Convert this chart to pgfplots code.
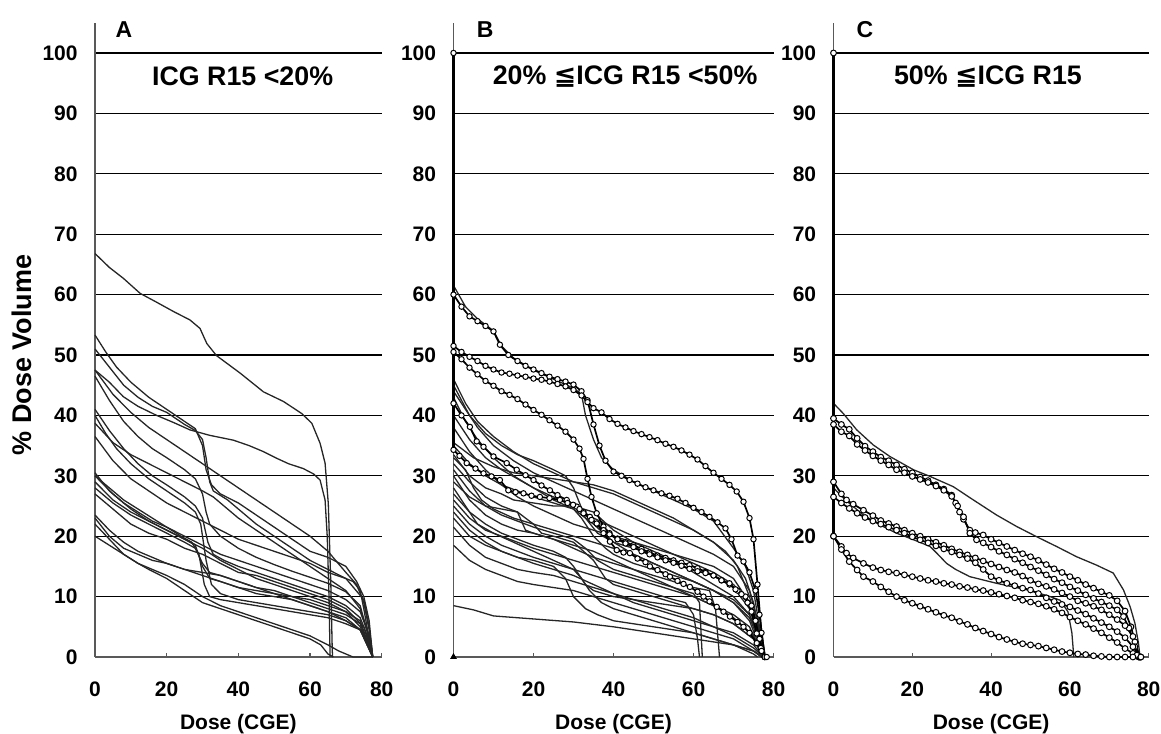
\documentclass[border=0pt]{standalone}
\usepackage{fontspec}
\setmainfont{Liberation Sans}
\newfontfamily\djv{DejaVu Sans}
\usepackage{pgfplots}
\pgfplotsset{compat=1.18}

\pgfplotsset{
  dvh/.style={
    scale only axis, height=317.1pt,
    xmin=0, xmax=80, ymin=0, ymax=105, clip=false,
    axis x line*=bottom, axis y line*=left,
    axis line style={black!65, line width=0.6pt, -},
    xtick={0,20,...,80}, ytick={0,10,...,100},
    ymajorgrids, grid style={black, line width=0.65pt},
    tick align=inside, major tick length=2pt,
    xtick style={black!65, line width=0.6pt}, ytick style={draw=none},
    /pgf/number format/assume math mode=true,
    tick label style={font=\fontsize{10.5}{12}\selectfont\bfseries},
    xticklabel style={anchor=center, inner sep=0pt, yshift=-16pt},
    yticklabel style={anchor=east, inner sep=0pt, xshift=-8.5pt},
    xlabel={Dose (CGE)},
    xlabel style={font=\fontsize{10.5}{12}\selectfont\bfseries,
      at={(axis description cs:0.5,0)}, anchor=center, yshift=-33.5pt},
  },
  dv/.style={black!85, line width=0.65pt},
  mk/.style={black, line width=0.85pt, mark=*, mark size=1.35pt,
    mark options={fill=white, line width=0.5pt}},
}
\tikzset{
  pan/.style={font=\fontsize{11.5}{14}\selectfont\bfseries},
  ttl/.style={font=\fontsize{13.4}{16}\selectfont\bfseries},
}

\begin{document}
\begin{tikzpicture}
\path[use as bounding box] (0,-38pt) rectangle (580.5pt,328.5pt);

% ---------------- A ----------------
\begin{axis}[dvh, width=143.35pt, at={(47.5pt,0pt)}, anchor=south west]
\addplot[dv] coordinates {(0,66.8)(4,64.5)(7.9,62.7)(12.6,60.2)(17,58.8)(21.9,57.2)(26.5,55.8)(29.3,54.4)(31.2,51.9)(33.9,49.9)(40.5,47)(47,43.9)(52.6,42.3)(57.7,40.3)(60.5,38.7)(62.8,35.4)(64.2,32.1)(65.1,25.4)(65.8,12.2)(66.2,1.2)(66.3,0)};
\addplot[dv] coordinates {(0,47.5)(4,45.5)(7.9,43.1)(12,41.5)(17.2,40)(22,38.8)(26.5,37.6)(32,36.7)(38.6,35.9)(43,35)(47,34)(50.7,32.9)(54,32)(58.1,31.2)(61,30.3)(62.8,29.3)(64.2,26)(64.8,20)(65.3,10)(65.6,0)};
\addplot[dv] coordinates {(0,53.3)(3,50.5)(6,48)(10,45.5)(15,43)(20,41)(25,39)(28,37.8)(30,35)(31,31)(32.5,28.5)(35,27)(40,25.5)(45,23.5)(50,21.5)(55,19.5)(60,17.5)(65,16.5)(70,15)(73,12.5)(75,10)(76.5,6)(77.5,0)};
\addplot[dv] coordinates {(0,51)(4,48)(8,45)(12,43)(16,41.5)(20,40.5)(25,38.5)(28,37.5)(30,36)(31,33)(32,29)(33,27.5)(37,26)(40,24.5)(45,22)(50,20)(55,18)(60,16)(65,14.5)(70,13)(75,9.5)(76.5,5)(77.5,0)};
\addplot[dv] coordinates {(0,47.5)(5,43.5)(10,40.5)(15,38)(20,36)(25,34)(30,32)(35,30)(40,28)(45,26)(50,24)(55,22)(60,20)(65,17.5)(70,14)(73,12)(75,9)(76.5,4.5)(77.5,0)};
\addplot[dv] coordinates {(0,46.5)(4,42.5)(8,39)(12,36.5)(16,34.5)(20,33)(25,31)(28,29.5)(30,27)(31,24)(32,22)(35,20)(40,18)(45,16.5)(50,15.3)(55,14.2)(60,13.2)(65,12.2)(70,10.8)(74,8.5)(76,4)(77.5,0)};
\addplot[dv] coordinates {(0,41)(4,37.5)(8,34.5)(12,32)(16,30)(20,28.5)(25,26.5)(28,25)(30,23)(31.5,19)(33,17)(36,16)(40,15)(45,14)(50,13)(55,12)(60,11)(65,10)(70,8.5)(74,6.5)(76,3.5)(77.5,0)};
\addplot[dv] coordinates {(0,40)(3,37)(6,34.5)(10,32)(15,29.5)(20,27.5)(25,25.5)(28,24)(29.5,22)(31,16)(32.5,12)(35,10.5)(40,9.5)(50,8.5)(60,7.5)(65,7)(70,6)(74,4.5)(77.5,0)};
\addplot[dv] coordinates {(0,38.7)(5,35.5)(10,33.5)(15,32)(20,30.5)(25,29)(30,27.5)(33,26.5)(36,25)(40,23)(45,21)(50,19)(55,17)(60,15)(65,13)(70,11)(74,8)(76.5,3.5)(77.5,0)};
\addplot[dv] coordinates {(0,36.5)(5,32.5)(10,29.5)(15,27.5)(20,25.5)(25,24)(30,22.5)(35,21)(40,19.5)(45,18.5)(50,17.5)(55,16.5)(60,15.5)(65,14)(70,13)(72,12.5)(74,11)(75,8)(76.5,3)(77.5,0)};
\addplot[dv] coordinates {(0,30.5)(4,27.5)(8,25.5)(12,24)(16,22.5)(20,21.5)(25,20)(30,18.5)(35,17)(40,16)(45,15)(50,14)(55,13)(60,12)(65,11)(70,9.5)(74,7.5)(76.5,3.5)(77.5,0)};
\addplot[dv] coordinates {(0,30)(4,28)(8,26)(12,24.5)(16,23)(20,21.5)(24,20)(27,19)(29,17)(30.5,12)(32,10)(35,9.5)(40,9)(45,8.5)(50,8)(55,7.5)(60,7)(65,6.5)(70,5.5)(74,4.5)(77.5,0)};
\addplot[dv] coordinates {(0,30)(5,27)(10,24.5)(15,22.5)(20,21)(25,19.5)(28,18.5)(30,15)(32,13)(35,12.5)(40,11.5)(45,11)(50,10.5)(55,10)(60,9)(65,8)(70,7)(74,5.5)(77.5,0)};
\addplot[dv] coordinates {(0,29)(5,26)(10,24)(15,22.5)(20,21)(25,19.5)(30,18)(35,16)(40,14.5)(45,13)(50,12)(55,11)(60,10)(65,9)(70,7.5)(74,6)(77.5,0)};
\addplot[dv] coordinates {(0,28)(5,25.5)(10,23.5)(15,22)(20,20.5)(25,19)(28,18)(30,15.5)(32,14)(35,13.5)(40,12.5)(45,11.5)(50,11)(55,10)(60,9.5)(65,8.5)(70,7.5)(74,5)(77.5,0)};
\addplot[dv] coordinates {(0,27)(5,24.5)(10,22)(15,20.5)(20,19.5)(25,18)(30,17)(35,15.5)(40,14)(45,13.5)(50,12.5)(55,11.5)(60,10.5)(65,9.5)(70,8)(75,5)(77.5,0)};
\addplot[dv] coordinates {(0,23.5)(4,21)(8,19)(12,17.5)(16,16.5)(20,15.5)(25,14.5)(30,13.5)(35,12.5)(40,11.5)(45,10.5)(50,10)(55,9.5)(60,8.5)(65,7.5)(70,6)(74,4.5)(77.5,0)};
\addplot[dv] coordinates {(0,23)(4,20)(8,18)(12,17)(16,16)(20,15.5)(25,14.5)(30,14)(35,13.5)(40,12.5)(45,11.5)(50,10.5)(55,9.5)(60,8.5)(65,7.5)(70,6.5)(75,4)(77.5,0)};
\addplot[dv] coordinates {(0,22)(4,19.5)(8,17)(12,15.5)(16,14.5)(20,13.5)(25,12)(30,10)(35,8.5)(40,7.5)(45,6.5)(50,5.5)(55,4.5)(60,3.5)(65,2)(68,1)(72,0)(77.5,0)};
\addplot[dv] coordinates {(0,20)(4,18.5)(8,17)(12,15.5)(15,14.5)(20,13)(25,11)(30,9)(35,8)(40,7)(45,6)(50,5)(55,4)(60,3)(63,2)(65,0.5)(66.5,0)};
\node[pan] at (axis cs:8.1,103.8) {A};
\node[ttl] at (axis cs:41.2,96.1) {ICG R15 <20\%};
\end{axis}
\node[rotate=90, font=\fontsize{13.5}{15}\selectfont\bfseries] at (11pt,151pt) {\% Dose Volume};

% ---------------- B ----------------
\begin{axis}[dvh, width=160pt, at={(226.75pt,0pt)}, anchor=south west]
\addplot[dv] coordinates {(0,61.5)(3,58)(6,56)(10,54)(12,51.5)(15,49.5)(20,47.5)(25,46)(30,44.5)(32,43.5)(33,40)(35,36)(37,33)(40,31)(45,29)(50,27.5)(55,26)(60,24.5)(65,22.5)(70,18)(73,15)(75,11)(76.5,5)(77.5,0)};
\addplot[dv] coordinates {(0,46)(3,42)(6,39)(10,36.5)(15,34)(20,32)(25,30.5)(30,29)(35,28)(40,27)(45,25.5)(50,24)(55,22.5)(60,21)(65,19)(70,16)(73,13)(75,9)(76.5,4)(77.5,0)};
\addplot[dv] coordinates {(0,45)(4,40)(8,37)(12,35)(16,33.5)(20,32.5)(25,31)(28,30)(30,28)(33,23)(36,20.5)(40,19)(45,18)(50,17)(55,16)(60,15)(65,13.5)(70,11.5)(74,8)(76.5,3)(77.5,0)};
\addplot[dv] coordinates {(0,44)(3,41)(6,38)(10,35)(15,32.5)(20,30.5)(25,29)(30,27.5)(35,26)(40,24.5)(45,23)(50,21.5)(55,20)(60,18.5)(65,17)(70,15)(74,11)(76,6)(77.5,0)};
\addplot[dv] coordinates {(0,43)(3,39)(6,36)(10,33)(15,30)(20,28)(25,26)(30,24.5)(32,23)(35,20)(38,18)(40,17)(45,15.5)(50,14.5)(55,13.5)(60,12.5)(65,11)(70,9.5)(74,7)(76.5,3)(77.5,0)};
\addplot[dv] coordinates {(0,40)(4,36)(8,33)(12,31)(16,29.5)(20,28)(25,26.5)(30,25)(35,23)(40,21.5)(45,20)(50,18.5)(55,17)(60,15.5)(65,14)(70,12)(74,9)(76.5,4)(77.5,0)};
\addplot[dv] coordinates {(0,38)(4,34)(8,31)(12,28.5)(16,26.5)(20,25)(25,23.5)(30,22)(35,21)(40,20)(45,19)(50,17.5)(55,16)(60,14)(65,12)(70,10)(74,7)(76.5,3)(77.5,0)};
\addplot[dv] coordinates {(0,35.5)(5,33)(10,31.5)(15,30.5)(20,30)(25,29.5)(30,29)(35,28.5)(40,27.5)(45,26)(50,24.5)(55,23)(60,21)(65,19)(68,17.5)(71,15)(74,10)(76,5)(77.5,0)};
\addplot[dv] coordinates {(0,35)(4,32)(8,30)(12,28.5)(16,27.5)(20,26.5)(25,25.5)(30,24.5)(35,22)(40,19)(45,17)(50,15.5)(55,14)(60,12.5)(65,11)(70,9)(74,6.5)(76.5,2.5)(77.5,0)};
\addplot[dv] coordinates {(0,33.5)(4,30)(8,28)(12,27)(15,26)(20,25.5)(25,25)(30,25)(35,24)(40,21)(45,19)(50,18)(55,17)(60,16)(65,15)(70,13)(73,10)(75,7)(77,2)(77.8,0)};
\addplot[dv] coordinates {(0,33)(3,31)(5,28)(7,26)(10,24.5)(15,23)(20,22)(25,21)(30,20)(35,19)(40,18)(45,17)(50,15.5)(55,14)(60,12.5)(65,11)(70,9)(74,6)(77.5,0)};
\addplot[dv] coordinates {(0,32)(4,29)(8,26.5)(12,25)(16,24)(20,22)(22,20.5)(25,20)(30,19)(35,16)(38,13)(40,12)(45,11)(50,10)(55,9)(60,8)(65,7)(70,5.5)(75,3)(77.5,0)};
\addplot[dv] coordinates {(0,31)(4,27.5)(8,25)(12,23.5)(16,22.5)(20,21.5)(25,20.5)(30,19.5)(33,18)(36,16)(40,14.5)(45,13.5)(50,12.5)(55,11.5)(60,10.5)(61.5,9)(62.2,0)};
\addplot[dv] coordinates {(0,30)(4,26)(8,23.5)(12,22)(16,21)(20,20.5)(25,19.5)(30,18)(35,16.5)(40,15.5)(45,14.5)(50,13.5)(55,12.5)(60,11.5)(64,11)(65.5,8)(66.5,0)};
\addplot[dv] coordinates {(0,29)(4,26.5)(8,25)(12,24.5)(16,24)(18,21)(20,20.5)(25,19.5)(30,18.5)(35,17.5)(40,16)(45,14.5)(50,13)(55,11.5)(60,10)(65,8.5)(70,7)(74,5)(77.5,0)};
\addplot[dv] coordinates {(0,28)(3,25)(6,22)(10,20.5)(15,19)(20,17.5)(25,16)(30,14.5)(32,13)(34,11)(37,9)(40,8)(45,7)(50,6)(55,5)(60,4)(65,3)(70,2)(75,0.5)(76,0)};
\addplot[dv] coordinates {(0,27)(4,24)(8,22)(12,20.5)(16,19.5)(20,18.5)(25,17.5)(28,16.5)(30,15)(33,12)(35,11)(40,10)(45,9.5)(50,9)(55,8.5)(60,8)(65,7)(70,5.5)(75,3)(77.5,0)};
\addplot[dv] coordinates {(0,26)(4,23)(8,21)(12,20)(16,19)(20,18)(25,17)(30,16)(35,15)(40,14)(45,13)(50,12)(55,11)(60,10)(65,8.5)(70,6.5)(75,3.5)(77.5,0)};
\addplot[dv] coordinates {(0,25)(4,22)(8,20)(12,18.5)(16,17.5)(20,16.5)(25,15.5)(30,14.5)(35,13.5)(40,12.5)(45,11.5)(50,10.5)(55,9.5)(58,9)(60,7)(61,3)(61.5,0)};
\addplot[dv] coordinates {(0,24)(4,21)(8,19)(12,17.5)(16,16.5)(20,15.5)(25,14.5)(30,13.5)(35,12)(40,10.5)(45,9)(50,8)(55,7)(60,6)(65,5)(70,4)(75,2)(77.5,0)};
\addplot[dv] coordinates {(0,23)(4,20)(8,18.5)(12,17.5)(16,16.5)(20,16)(25,15)(28,13)(30,10)(33,8)(36,7)(40,6)(45,5.5)(50,5)(55,4.5)(60,4)(65,3)(70,2)(75,1)(77.5,0)};
\addplot[dv] coordinates {(0,21.5)(4,18.5)(8,16.5)(12,15.5)(16,14.5)(20,14)(25,13.5)(30,12.5)(35,11.5)(40,10.5)(45,9.5)(50,8.5)(55,7.5)(60,6.5)(65,5)(70,3.5)(75,1.5)(77.5,0)};
\addplot[dv] coordinates {(0,18.5)(4,16)(8,14.5)(12,13.5)(16,12.5)(20,12)(25,11.5)(30,11)(35,10)(40,9)(45,8)(50,7)(55,6)(60,5)(65,4)(70,3)(75,1)(77,0)};
\addplot[dv] coordinates {(0,8.5)(5,7.8)(10,6.8)(20,6.3)(30,5.8)(40,5)(50,4)(60,3)(70,2)(75,1)(77,0)};
% curves with markers
\addplot[black, line width=1.6pt, mark=*, mark indices={2}, mark size=1.35pt, mark options={fill=white, line width=0.5pt}] coordinates {(0,34.3)(0,100)};
\addplot[mk] coordinates {(0,60)(2,58)(4,56.4)(6,55.6)(8,54.8)(10,53.9)(11.6,51.7)(13.7,50)(16,49)(18,48.2)(20,47.6)(22,47)(24,46.4)(26,46)(28,45.6)(30,45.1)(32,44)(33.5,42.5)(35,38.5)(36.5,35)(38,32.5)(40,30.7)(42,30)(44,29.3)(46,28.7)(48,28.1)(50,27.6)(52,27.1)(54,26.7)(56,26.2)(58,25.5)(60,24.7)(62,24)(64,23.2)(66,22.3)(68,21.3)(69.5,19.5)(71,16.8)(72.5,15.8)(74,14)(75.5,11)(76.5,7)(77.8,0)};
\addplot[mk] coordinates {(0,51.5)(2,50.5)(4,49.7)(6,49)(8,48.2)(10,47.6)(12,47.1)(14,46.9)(16,46.6)(18,46.4)(20,46.1)(22,45.9)(24,45.6)(26,45.2)(28,44.8)(30,44.2)(32,43.3)(33.5,42.2)(35,41.2)(37,40.5)(39,39.4)(41,38.6)(43,38)(45,37.4)(47,36.9)(49,36.4)(51,35.9)(53,35.3)(55,34.8)(57,34.2)(59,33.5)(61,32.7)(63,31.6)(65,30.5)(67,29.5)(69,28.5)(70.8,27.4)(72.5,25.7)(74,23)(75,19.5)(76,12)(77,4)(77.9,0)};
\addplot[mk] coordinates {(0,50.5)(2,49.3)(4,47.9)(6,46.8)(8,45.7)(10,44.9)(12,44)(14,43.4)(16,42.7)(18,41.8)(20,40.9)(22,40.1)(24,39.2)(26,38.3)(28,37.3)(30,36)(31.5,34.5)(32.5,32.8)(33.5,29.5)(34.5,26.5)(35.8,23.8)(37.5,21.6)(39,20.5)(41,19.6)(43,19)(45,18.5)(47,17.9)(49,17.3)(51,16.8)(53,16.4)(55,16)(57,15.6)(59,15.2)(61,14.7)(63,14.1)(65,13.5)(67,12.7)(69,12)(71,11)(73,10)(74.5,8.5)(75.5,6)(76.5,3)(77.8,0)};
\addplot[mk] coordinates {(0,42)(2,40)(4.1,38.1)(5.8,35.7)(7.5,34.8)(10,33.2)(13.3,32.1)(15.8,31)(18,30.1)(20,29.3)(22,28.4)(24.1,27.6)(26,26.8)(28.3,26)(30.8,24.9)(32.5,24)(34.1,23.2)(36,22)(37.5,21)(39,20.3)(41,19.5)(43,18.8)(45,18.2)(47,17.5)(49,17)(51,16.5)(53,16)(55,15.6)(57,15.1)(59,14.6)(61,14.2)(63,13.9)(65,13.5)(67,12.7)(69,12.2)(70.5,11.2)(72,10.4)(73.5,9)(74.5,7.5)(75.8,3.9)(76.8,1.5)(77.8,0)};
\addplot[mk] coordinates {(0,34.3)(1.5,33.3)(3.3,32.1)(5.5,31.2)(7.5,30.4)(9.5,29.9)(11.6,29.3)(13.7,27.6)(15.5,27.3)(17.5,27.1)(19.5,26.7)(21.6,26.5)(24,26.3)(26.6,26)(28.5,25.5)(29.9,25.2)(31.5,24.5)(32.5,23.8)(34.5,22.7)(35.8,22.1)(37.5,20.5)(39.1,19.1)(40.8,17.7)(42.5,17.3)(44.1,17.2)(46,16.3)(48,15.7)(49.1,15)(51,14.4)(53,13.7)(54.1,13.3)(56,12.6)(57.5,12.1)(59.1,11.6)(61,10.8)(62.5,10)(64,9.2)(65.8,8.3)(67.5,7.5)(69.1,6.7)(71,5.8)(72.5,5)(74,4)(75.8,2.3)(77,1)(78.3,0)};
\addplot[black, mark=triangle*, mark size=1.6pt, only marks] coordinates {(0,0)};
\node[pan] at (axis cs:7.9,103.8) {B};
\node[ttl] at (axis cs:42.9,96.1) {20\% {\djv ≦}ICG R15 <50\%};
\end{axis}

% ---------------- C ----------------
\begin{axis}[dvh, width=157.6pt, at={(416.75pt,0pt)}, anchor=south west]
\addplot[dv] coordinates {(0,42)(2.5,40.3)(5.9,37.6)(10.1,35.1)(14.3,33.2)(20.3,31)(24.5,29.9)(30.4,28.2)(35.5,26)(41.4,23.5)(46.5,21.6)(51.6,19.9)(56.6,18.3)(61.7,16.6)(66.8,15.2)(71,13.9)(73.6,11.1)(75.3,8.3)(76.5,5.6)(77.4,2.3)(77.8,0)};
\addplot[dv] coordinates {(0,28)(3,26)(7.6,23.5)(12,21.8)(16,20.5)(20,19.5)(24.5,18.3)(26.2,17.2)(28.7,15.5)(31,14.5)(34.6,13.3)(41.4,12.2)(49.9,11)(55,10)(57.5,9.4)(59.5,7.5)(60.5,4)(61,0)};
\addplot[black, line width=1.6pt, mark=*, mark indices={2}, mark size=1.45pt, mark options={fill=white, line width=0.5pt}] coordinates {(0,20)(0,100)};
\addplot[mk, mark size=1.45pt] coordinates {(0,39.5)(2,38.5)(4,37.7)(6,36.2)(8,34.9)(10,34)(12,33.1)(14,32.5)(16,31.8)(18,31.1)(20,30.5)(22,29.8)(24,29.2)(26,28.5)(28,27.8)(30,26.8)(31,25.5)(32,24)(33,22.8)(34.6,21)(36,20.6)(38,20.2)(40,19.5)(42,18.9)(44,18.3)(46,17.7)(48,17.1)(50,16.6)(52,16)(54,15.3)(56,14.6)(58,14)(60,13.3)(62,12.7)(64,12)(66,11.4)(68,10.8)(70,10.2)(72,9.3)(74,7.6)(75.5,5)(76.5,2.5)(77.5,0)};
\addplot[mk, mark size=1.45pt] coordinates {(0,38.5)(2,37.3)(4,36.6)(6,35.2)(8,34.2)(10,33.3)(12,32.5)(14,31.8)(16,31)(18,30.5)(20,29.9)(22,29.4)(24,28.9)(26,28.3)(28,27.6)(30,26.6)(31.5,25)(33,23.2)(34.6,20.5)(36.3,19.4)(38,18.9)(40,18.2)(42,17.5)(44,16.9)(46,16.2)(48,15.6)(50,14.9)(52,14.3)(54,13.6)(56,12.9)(58,12.3)(60,11.6)(62,11)(64,10.3)(66,9.7)(68,9.1)(70,8.5)(72,7.8)(73.6,6.7)(75,4.8)(76.5,1.7)(77.5,0)};
\addplot[mk, mark size=1.45pt] coordinates {(0,29)(2,27)(3.3,26)(5,25.3)(7.6,24.3)(10,23.4)(12,22.6)(14,22.1)(16,21.6)(18,21)(20,20.5)(22,20)(24,19.5)(26,19)(28,18.5)(30,17.9)(32,17.4)(34,16.9)(36,16.4)(38,15.9)(40,15.4)(42,14.9)(44,14.4)(46,14)(48,13.4)(50,12.7)(52,12.1)(54,11.7)(56,11.2)(58,10.6)(60,10)(62,9.3)(64,8.9)(66,8.4)(68,7.8)(70,7)(72,6.2)(74,5.2)(76,3.4)(77.8,0)};
\addplot[mk, mark size=1.45pt] coordinates {(0,26.5)(2,25.5)(4,24.6)(6,23.8)(8,23.1)(10,22.5)(12,22)(14,21.5)(16,21)(18,20.5)(20,19.9)(22,19.4)(24,18.9)(26,18.4)(28,17.9)(30,17.4)(32,16.9)(34,16.3)(36,15.6)(38,14.5)(40,13.3)(42,12.7)(44,12.2)(46,11.8)(48,11.4)(50,11.1)(52,10.5)(54,9.8)(56,9.2)(58,8.7)(60,8.3)(62,7.7)(64,7.1)(66,6.4)(68,5.7)(70,5)(72,4.2)(74,3.2)(76,1.7)(77.8,0)};
\addplot[mk, mark size=1.45pt] coordinates {(0,20)(2,18.3)(3.3,17.2)(5,16.4)(7.6,15.5)(10,14.8)(12,14.4)(14,14.1)(16,13.9)(18,13.6)(20,13.3)(22,13)(24,12.7)(26,12.5)(28,12.2)(30,12)(32,11.7)(34,11.5)(36,11.2)(38,11)(40,10.7)(42,10.4)(44,10.1)(46,9.8)(48,9.4)(50,9.1)(52,8.8)(54,8.4)(56,7.9)(58,7.3)(60,6.6)(62,6)(64,5.4)(66,4.7)(68,4)(70,3.2)(72,2.4)(74,1.4)(76,0.6)(77,0.3)(78,0)};
\addplot[mk, mark size=1.45pt] coordinates {(0,20)(2,17.8)(4,15.8)(6,14.4)(7.6,13.3)(10,12.5)(12,11.6)(14,10.8)(16,10)(18,9.4)(20,8.9)(22,8.4)(24,7.9)(26,7.4)(28,6.9)(30,6.5)(32,5.9)(34,5.4)(36,4.8)(38,4.3)(40,3.8)(42,3.3)(44,2.9)(46,2.5)(48,2.2)(50,2)(52,1.8)(54,1.5)(56,1.2)(58,0.9)(60,0.7)(62,0.5)(64,0.4)(66,0.2)(68,0.1)(70,0)(72,0)(74,0)(76,0)(78,0)};
\node[pan] at (axis cs:8,103.8) {C};
\node[ttl] at (axis cs:39.2,96.1) {50\% {\djv ≦}ICG R15};
\end{axis}
\end{tikzpicture}
\end{document}
